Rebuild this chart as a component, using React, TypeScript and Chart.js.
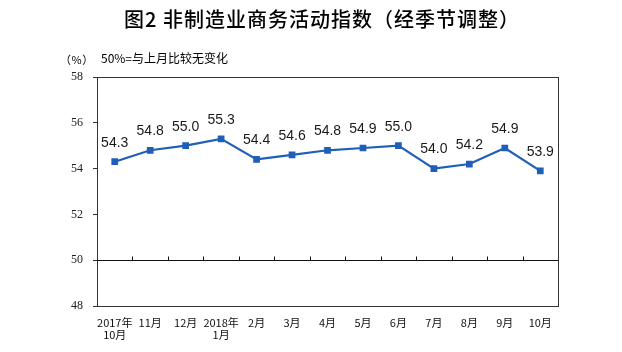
import React, { useEffect, useRef } from "react";
import { Chart, registerables } from "chart.js";

Chart.register(...registerables);

const categories: (string | string[])[] = [
  ["2017年", "10月"], "11月", "12月", ["2018年", "1月"], "2月", "3月", "4月", "5月", "6月", "7月", "8月", "9月", "10月",
];
const values = [54.3, 54.8, 55.0, 55.3, 54.4, 54.6, 54.8, 54.9, 55.0, 54.0, 54.2, 54.9, 53.9];
const titleText = "图2 非制造业商务活动指数（经季节调整）";
const unitText = "（%）";
const noteText = "50%=与上月比较无变化";
const baseline = 50;

const overlay = {
  id: "overlay",
  afterDatasetsDraw(chart: any) {
    const { ctx, chartArea: a, scales } = chart;
    const x = scales.x;
    const y = scales.y;
    ctx.save();
    ctx.strokeStyle = "#333";
    ctx.lineWidth = 1;
    ctx.strokeRect(Math.round(a.left) + 0.5, Math.round(a.top) + 0.5, Math.round(a.right - a.left), Math.round(a.bottom - a.top));
    const yb = Math.round(y.getPixelForValue(baseline)) + 0.5;
    ctx.strokeStyle = "#111";
    ctx.beginPath();
    ctx.moveTo(a.left, yb);
    ctx.lineTo(a.right, yb);
    for (let i = 1; i < values.length; i++) {
      const px = Math.round((x.getPixelForValue(i - 1) + x.getPixelForValue(i)) / 2) + 0.5;
      ctx.moveTo(px, yb);
      ctx.lineTo(px, yb - 4);
    }
    ctx.stroke();
    ctx.fillStyle = "#1a1a1a";
    ctx.font = "14px 'Liberation Sans', Arial, sans-serif";
    ctx.textAlign = "center";
    ctx.textBaseline = "middle";
    values.forEach((v, i) => {
      ctx.fillText(v.toFixed(1), x.getPixelForValue(i), y.getPixelForValue(v) - 19);
    });
    ctx.restore();
  },
  afterDraw(chart: any) {
    const { ctx } = chart;
    ctx.save();
    ctx.fillStyle = "#000";
    ctx.textBaseline = "middle";
    ctx.textAlign = "center";
    ctx.font = "500 20px 'Noto Sans CJK SC', sans-serif";
    (ctx as any).letterSpacing = "1px";
    ctx.fillText(titleText, 322, 19);
    ctx.textAlign = "left";
    (ctx as any).letterSpacing = "0.5px";
    ctx.font = "11px 'Noto Sans CJK SC', 'Liberation Serif', serif";
    ctx.fillText(unitText, 60, 60);
    (ctx as any).letterSpacing = "0px";
    ctx.font = "12px 'Noto Sans CJK SC', 'Liberation Serif', serif";
    ctx.fillText(noteText, 101, 58);
    ctx.restore();
  },
};

export default function App() {
  const ref = useRef<HTMLCanvasElement>(null);
  useEffect(() => {
    document.body.style.margin = "0";
    const chart = new Chart(ref.current!, {
      type: "line",
      data: {
        labels: categories,
        datasets: [
          {
            data: values,
            borderColor: "#1f5fb8",
            backgroundColor: "#1f5fb8",
            borderWidth: 2.2,
            pointStyle: "rect",
            pointRadius: 3.2,
            pointHoverRadius: 3.2,
            tension: 0,
          },
        ],
      },
      options: {
        animation: false,
        responsive: false,
        layout: { padding: { left: 0, right: 64, top: 77, bottom: 0 } },
        plugins: { legend: { display: false }, tooltip: { enabled: false }, title: { display: false } },
        scales: {
          x: {
            offset: true,
            grid: { display: false },
            border: { display: false },
            ticks: {
              color: "#111",
              font: { size: 11, weight: "normal", family: "'Noto Sans CJK SC', 'Liberation Serif', serif", lineHeight: 1.1 },
              padding: 3,
              maxRotation: 0,
              autoSkip: false,
            },
            afterFit(s: any) { s.height = 46; },
          },
          y: {
            min: 48,
            max: 58,
            ticks: {
              stepSize: 2,
              color: "#222",
              font: { size: 12, family: "'Liberation Serif', 'Times New Roman', serif" },
              padding: 10,
            },
            grid: { drawOnChartArea: false, drawTicks: true, tickLength: 4, color: "#333" },
            border: { display: false },
            afterFit(s: any) { s.width = 97; },
          },
        },
      },
      plugins: [overlay],
    });
    return () => chart.destroy();
  }, []);
  return (
    <div style={{ position: "absolute", left: 0, top: 0, width: 622, height: 352, background: "#fff" }}>
      <canvas ref={ref} width={622} height={352} style={{ width: 622, height: 352 }} />
    </div>
  );
}
